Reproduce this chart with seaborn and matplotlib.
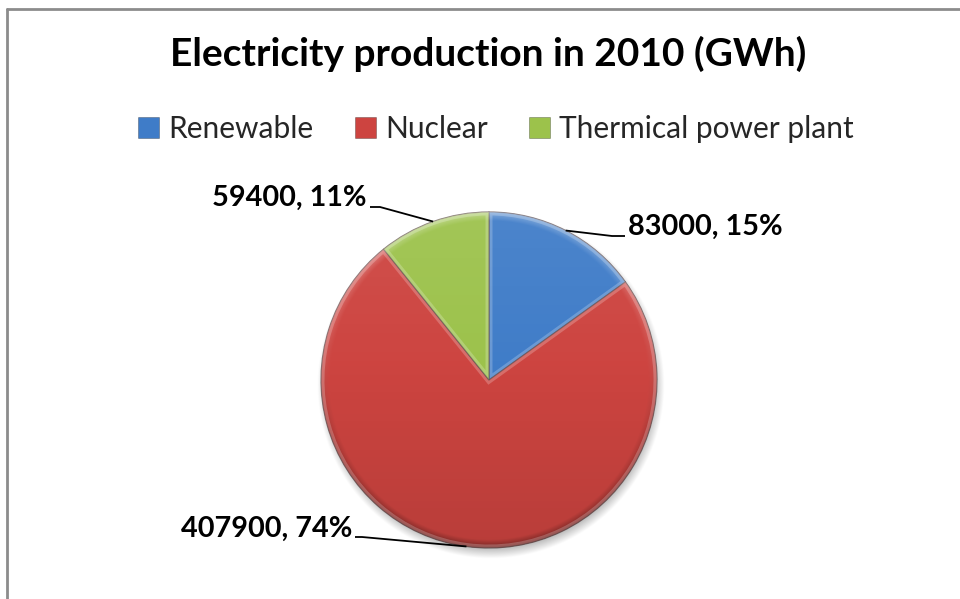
import numpy as np
import matplotlib
matplotlib.use("Agg")
import matplotlib.pyplot as plt
from matplotlib.patches import Patch, PathPatch
import seaborn as sns

# Data
categories = ["Renewable", "Nuclear", "Thermical power plant"]
production_gwh = [83000, 407900, 59400]
percent_labels = ["15%", "74%", "11%"]
title_text = "Electricity production in 2010 (GWh)"

sns.set_theme(style="white")
plt.rcParams["font.family"] = ["Lato", "DejaVu Sans"]

palette = ["#3f7cc8", "#cd4440", "#9cc24b"]

W, H = 960, 599
fig = plt.figure(figsize=(W / 100, H / 100), dpi=100)
ax = fig.add_axes([0, 0, 1, 1])


def Y(py):
    return H - py


cx, cy, R = 489, Y(380), 168

# soft drop shadow under the pie
n = 420
gx = np.linspace(cx - R - 40, cx + R + 40, n)
gy = np.linspace(cy - R - 40, cy + R + 40, n)
XX, YY = np.meshgrid(gx, gy)
d = np.hypot(XX - (cx + 2), YY - (cy - 5))
sh = np.clip((R + 6 - d) / 14, 0, 1) * 0.35
shadow = np.zeros((n, n, 4))
shadow[..., 3] = sh
ax.imshow(shadow, extent=[gx[0], gx[-1], gy[0], gy[-1]], origin="lower",
          zorder=1, interpolation="bilinear")

wedges, _ = ax.pie(production_gwh, colors=palette, startangle=90,
                   counterclock=False, center=(cx, cy), radius=R,
                   wedgeprops=dict(linewidth=0.9, edgecolor=(0.2, 0.1, 0.1, 0.55)))
for w in wedges:
    w.set_zorder(2)

# gradient/bevel shading over each slice
m = 500
sx = np.linspace(cx - R, cx + R, m)
sy = np.linspace(cy - R, cy + R, m)
SX, SY = np.meshgrid(sx, sy)
rr = np.hypot(SX - cx, SY - cy) / R
t = (SY - (cy - R)) / (2 * R)  # 0 bottom .. 1 top
shade = np.zeros((m, m, 4))
light = np.clip((t - 0.5) / 0.5, 0, 1) * 0.07
dark = np.clip((0.55 - t) / 0.55, 0, 1) * 0.10
rim = np.clip((rr - 0.95) / 0.05, 0, 1)
rim_dark = rim * np.clip((0.65 - t) / 0.65, 0, 1) * 0.35
rim_light = rim * np.clip((t - 0.35) / 0.65, 0, 1) * 0.30
white_a = light + rim_light
black_a = dark + rim_dark
alpha = np.clip(white_a + black_a, 0, 1)
val = np.where(alpha > 0, white_a / np.maximum(alpha, 1e-6), 0)
shade[..., 0] = val
shade[..., 1] = val
shade[..., 2] = val
shade[..., 3] = alpha
for w in wedges:
    im = ax.imshow(shade, extent=[sx[0], sx[-1], sy[0], sy[-1]], origin="lower",
                   zorder=3, interpolation="bilinear")
    im.set_clip_path(w)
    # inner bevel highlight along the slice outline
    hl = PathPatch(w.get_path(), transform=w.get_transform(), facecolor="none",
                   edgecolor=(1, 1, 1, 0.22), linewidth=5, zorder=3.5)
    ax.add_patch(hl)
    hl.set_clip_path(w)

# value labels with leader lines
label_pos = [(628, 235, "left"), (352, 537, "right"), (367, 206, "right")]
line_knee = [(612, 236), (362, 537), (380, 207)]
total = sum(production_gwh)
cum = 0
for i, v in enumerate(production_gwh):
    mid = cum + v / 2
    cum += v
    ang = np.deg2rad(90 - 360 * mid / total)
    ex, ey = cx + R * np.cos(ang), cy + R * np.sin(ang)
    lx, ly, ha = label_pos[i]
    kx, ky = line_knee[i]
    endx = lx - 3 if ha == "left" else lx + 3
    ax.plot([ex, kx, endx], [ey, Y(ky), Y(ky)], color="black", lw=1.3,
            zorder=4, solid_capstyle="butt")
    ax.text(lx, Y(ly), f"{v}, {percent_labels[i]}", ha=ha, va="baseline",
            fontsize=20.8, fontweight="bold", color="black", zorder=5)

ax.text(488, Y(66), title_text, ha="center", va="baseline", fontsize=28,
        fontweight="bold", color="black")

handles = [Patch(facecolor=c, edgecolor=(0, 0, 0, 0.3), linewidth=0.6)
           for c in palette]
ax.legend(handles, categories, loc="center", ncol=3,
          bbox_to_anchor=(496 / W, Y(129) / H), frameon=False, fontsize=21.5,
          handlelength=0.7, handleheight=0.7, handletextpad=0.3,
          columnspacing=1.4, borderpad=0)

# chart border (top and left edges visible)
ax.plot([7, W], [Y(9), Y(9)], color="#8c8c8c", lw=2, zorder=6)
ax.plot([7, 7], [Y(9), 0], color="#8c8c8c", lw=2, zorder=6)

ax.set_xlim(0, W)
ax.set_ylim(0, H)
ax.set_aspect("auto")
ax.axis("off")

fig.savefig("out.png", dpi=100, facecolor="white")
